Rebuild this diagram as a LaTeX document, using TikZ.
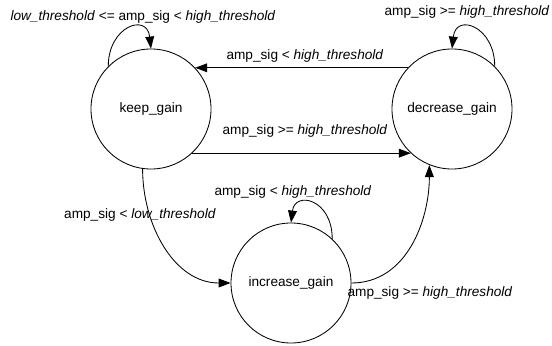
\documentclass[tikz,border=0pt]{standalone}
\usepackage{fontspec}
\setmainfont{Liberation Sans}
\usepackage{tikz}
\usetikzlibrary{arrows.meta}

\begin{document}
\begin{tikzpicture}[
  font=\fontsize{9.7pt}{11pt}\selectfont,
  line width=0.6pt,
  stan/.style={draw, circle, minimum size=3cm, inner sep=0},
  opis/.style={inner sep=0},
  przej/.style={-{Triangle[length=0.3cm, width=0.22cm]}},
]
\useasboundingbox (0,0) rectangle (13.8,8.625);
% Stany
\node[stan] (keep) at (3.775, 5.9) {keep\_gain};
\node[stan] (dec)  at (11.3, 5.9)  {decrease\_gain};
\node[stan] (inc)  at (7.275, 1.55) {increase\_gain};
% Przejscia
\draw[przej] (keep.135) .. controls +(0,1.0) and +(-0.1,0.9) .. (keep.north);
\draw[przej] (dec.45) .. controls +(0,1.0) and +(0.1,0.9) .. (dec.north);
\draw[przej] (inc.47) .. controls +(0,1.0) and +(0.1,0.8) .. (inc.north);
\draw[przej] (dec.137) -- (keep.43);
\draw[przej] (keep.-47) -- (dec.227);
\draw[przej] (keep.262) to[out=-90, in=180] (inc.west);
\draw[przej] (inc.east) to[out=0, in=-90] (dec.248);
% Opisy
\node[opis] (lk)  at (3.575, 8.2)   {\textit{low\_threshold} <= amp\_sig < \textit{high\_threshold}};
\node[opis] (ld)  at (11.675, 8.325) {amp\_sig >= \textit{high\_threshold}};
\node[opis] (ldk) at (7.625, 7.225) {amp\_sig < \textit{high\_threshold}};
\node[opis] (lkd) at (7.625, 5.35)  {amp\_sig >= \textit{high\_threshold}};
\node[opis] (lki) at (3.5, 3.25)    {amp\_sig < \textit{low\_threshold}};
\node[opis] (li)  at (7.325, 3.825) {amp\_sig < \textit{high\_threshold}};
\node[opis] (lid) at (10.75, 1.3)   {amp\_sig >= \textit{high\_threshold}};
\end{tikzpicture}
\end{document}
